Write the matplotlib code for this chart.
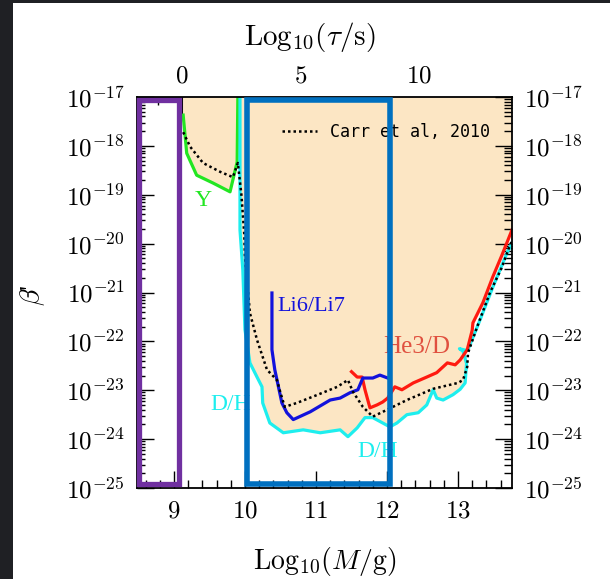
import numpy as np
import matplotlib
matplotlib.use('Agg')
import matplotlib.pyplot as plt
import matplotlib.transforms as mtransforms
from matplotlib.patches import Rectangle
from matplotlib.ticker import LogLocator, MultipleLocator, FixedLocator, FuncFormatter, NullFormatter

plt.rcParams['mathtext.fontset'] = 'cm'
plt.rcParams['font.family'] = 'serif'
plt.rcParams['font.serif'] = ['Liberation Serif', 'DejaVu Serif']

# all curves: x = log10(M/g), y = log10(beta')
y_x = [9.13, 9.18, 9.32, 9.55, 9.79, 9.89, 9.90]
y_y = [-17.37, -18.15, -18.60, -18.76, -18.94, -18.33, -17.0]

carr_x = [9.13, 9.23, 9.41, 9.65, 9.83, 9.90, 9.95, 9.99, 10.00, 10.07, 10.17, 10.31,
          10.45, 10.50, 10.56, 10.73, 11.01, 11.30, 11.45, 11.52, 11.66, 11.80, 12.00,
          12.28, 12.65, 13.00, 13.07, 13.13, 13.14, 13.27, 13.45, 13.62, 13.73, 13.76]
carr_y = [-17.72, -18.02, -18.35, -18.53, -18.64, -18.35, -19.0, -19.8, -20.27, -21.42,
          -21.97, -22.58, -22.79, -23.05, -23.34, -23.26, -23.10, -22.93, -22.79, -23.03,
          -23.34, -23.54, -23.40, -23.20, -22.97, -22.85, -22.79, -22.52, -22.24, -21.70,
          -21.00, -20.48, -20.03, -19.95]

dh_x = [9.93, 9.93, 9.93, 9.97, 10.00, 10.07, 10.17, 10.24, 10.25, 10.35, 10.54, 10.82,
        11.06, 11.34, 11.45, 11.58, 11.69, 11.80, 11.94, 12.04, 12.14, 12.28, 12.44,
        12.56, 12.65, 12.70, 12.79, 12.93, 13.03, 13.10, 13.12, 13.07, 13.02, 13.10,
        13.14, 13.31, 13.49, 13.69, 13.76]
dh_y = [-17.0, -18.3, -19.72, -20.54, -21.76, -22.44, -22.73, -22.93, -23.26, -23.67,
        -23.87, -23.81, -23.87, -23.81, -23.95, -23.77, -23.56, -23.56, -23.67, -23.75,
        -23.67, -23.50, -23.46, -23.30, -22.99, -23.16, -23.20, -23.09, -22.98, -22.85,
        -22.45, -22.20, -22.15, -22.18, -22.17, -21.56, -20.89, -20.19, -19.99]

he3_x = [11.50, 11.58, 11.65, 11.69, 11.76, 11.86, 11.94, 12.01, 12.11, 12.21, 12.37,
         12.56, 12.70, 12.85, 12.96, 13.03, 13.13, 13.20, 13.21, 13.35, 13.49, 13.62, 13.76]
he3_y = [-22.62, -22.73, -22.73, -22.99, -23.36, -23.30, -23.24, -23.16, -22.93, -22.99,
         -22.85, -22.73, -22.64, -22.44, -22.48, -22.38, -22.17, -21.77, -21.62, -21.21,
         -20.68, -20.23, -19.72]

li_x = [10.38, 10.38, 10.42, 10.46, 10.52, 10.59, 10.68, 10.92, 11.20, 11.34, 11.48,
        11.59, 11.66, 11.80, 11.90, 12.01]
li_y = [-21.01, -22.17, -22.58, -22.85, -23.26, -23.46, -23.60, -23.44, -23.20, -23.16,
        -23.05, -22.99, -22.75, -22.75, -22.69, -22.75]

yticks = [-25, -24, -23, -22, -21, -20, -19, -18, -17]
xticks = [9, 10, 11, 12, 13]
tau_ticks = [0, 5, 10]

fill_c = '#fce6c4'
green = '#22e622'
cyan = '#1eeeee'
red = '#ff1a10'
blue = '#1212dc'

fig = plt.figure(figsize=(6.1, 5.79), dpi=100, facecolor='#1f2024')
fig.patches.append(Rectangle((13 / 610, 0), 1, 1 - 3 / 579, transform=fig.transFigure,
                             facecolor='white', edgecolor='none', zorder=-10))
ax = fig.add_axes([137 / 610, 91 / 579, 375 / 610, 391 / 579])
ax.set_yscale('log')
ax.set_xlim(8.48, 13.76)
ax.set_ylim(1e-25, 1e-17)
ax.set_axisbelow(False)

# excluded region
ax.fill(np.r_[y_x, y_x[0]], 10 ** np.r_[y_y, -17.0], color=fill_c, lw=0, zorder=1)
bx = [x for x in dh_x if x <= 13.14] + [x for x in he3_x if x >= 13.2]
by = [y for x, y in zip(dh_x, dh_y) if x <= 13.14] + [y for x, y in zip(he3_x, he3_y) if x >= 13.2]
ax.fill(np.r_[bx, bx[-1], bx[0]], 10 ** np.r_[by, -17.0, -17.0], color=fill_c, lw=0, zorder=1)

ax.plot(y_x, 10 ** np.array(y_y), color=green, lw=2.3, zorder=3)
ax.plot(dh_x, 10 ** np.array(dh_y), color=cyan, lw=2.3, zorder=3)
ax.plot(he3_x, 10 ** np.array(he3_y), color=red, lw=2.3, zorder=3)
ax.plot(li_x, 10 ** np.array(li_y), color=blue, lw=2.3, zorder=3)
carr, = ax.plot(carr_x, 10 ** np.array(carr_y), color='black', lw=1.8,
                ls=(0, (1, 1.2)), zorder=4)

ax.text(9.41, 10 ** -19.11, 'Y', color=green, fontsize=17, ha='center', va='center')
ax.text(10.45, 10 ** -21.29, 'Li6/Li7', color=blue, fontsize=16, ha='left', va='center')
ax.text(11.94, 10 ** -22.11, 'He3/D', color='#e0503f', fontsize=18, ha='left', va='center')
ax.text(9.51, 10 ** -23.3, 'D/H', color=cyan, fontsize=17, ha='left', va='center')
ax.text(11.58, 10 ** -24.26, 'D/H', color=cyan, fontsize=17, ha='left', va='center')

leg = ax.legend([carr], ['Carr et al, 2010'], loc='center right', bbox_to_anchor=(0.941, 0.91),
                frameon=False, borderpad=0, borderaxespad=0, handlelength=2.1,
                handletextpad=0.75, prop={'family': 'DejaVu Sans Mono', 'size': 12})

# highlight boxes
trans = mtransforms.blended_transform_factory(ax.transData, ax.transAxes)
ax.add_patch(Rectangle((8.514, 0.009), 9.077 - 8.514, 0.9846, transform=trans, fill=False,
                       edgecolor='#7030a0', lw=3.8, clip_on=False, zorder=6))
ax.add_patch(Rectangle((10.035, 0.009), 12.042 - 10.035, 0.9846, transform=trans, fill=False,
                       edgecolor='#0070c0', lw=4.0, clip_on=False, zorder=6))

# axes and ticks
ax.set_yticks([10.0 ** p for p in yticks])
ax.yaxis.set_minor_locator(LogLocator(base=10, subs=np.arange(2, 10), numticks=30))
ax.yaxis.set_minor_formatter(NullFormatter())
ax.yaxis.set_major_formatter(FuncFormatter(lambda v, p: r'$10^{%d}$' % round(np.log10(v))))
ax.set_xticks(xticks)
ax.xaxis.set_minor_locator(MultipleLocator(0.2))
ax.xaxis.set_major_formatter(FuncFormatter(lambda v, p: r'$%d$' % round(v)))
ax.tick_params(which='both', direction='in', left=True, right=True, top=False, bottom=True,
               labelright=True, labelsize=18, width=1.0, color='black')
ax.tick_params(which='major', length=12, pad=9)
ax.tick_params(which='minor', length=6)
for s in ax.spines.values():
    s.set_linewidth(1.3)
    s.set_zorder(5)

sec = ax.secondary_xaxis('top', functions=(lambda m: 3 * m - 27.34, lambda t: (t + 27.34) / 3))
sec.xaxis.set_major_locator(FixedLocator(tau_ticks))
sec.xaxis.set_minor_locator(MultipleLocator(1))
sec.xaxis.set_major_formatter(FuncFormatter(lambda v, p: r'$%d$' % round(v)))
sec.tick_params(which='both', direction='in', labelsize=18, width=1.0, color='black')
sec.tick_params(which='major', length=12, pad=7)
sec.tick_params(which='minor', length=6)
sec.set_xlabel(r'$\mathrm{Log}_{10}(\tau/\mathrm{s})$', fontsize=21)
sec.xaxis.set_label_coords(0.461, 1.133, transform=ax.transAxes)

ax.set_xlabel(r'$\mathrm{Log}_{10}(M/\mathrm{g})$', fontsize=20)
ax.xaxis.set_label_coords(0.5, -0.146)
ax.set_ylabel(r"$\beta$'", fontsize=20)
ax.yaxis.set_label_coords(-0.24, 0.494)

fig.savefig('out.png', dpi=100, facecolor=fig.get_facecolor())
